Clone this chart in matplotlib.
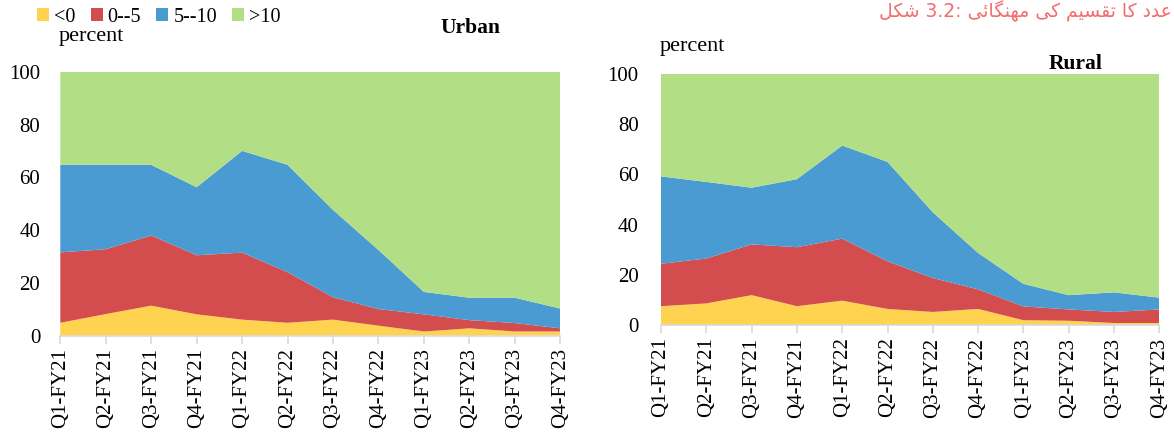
import matplotlib
matplotlib.use("Agg")
import matplotlib.pyplot as plt
from matplotlib.patches import Patch

# Quarters on the x axis
quarters = ["Q1-FY21", "Q2-FY21", "Q3-FY21", "Q4-FY21",
            "Q1-FY22", "Q2-FY22", "Q3-FY22", "Q4-FY22",
            "Q1-FY23", "Q2-FY23", "Q3-FY23", "Q4-FY23"]

band_labels = ["<0", "0--5", "5--10", ">10"]

# Urban: share of items in each inflation band (percent)
urban_neg = [4.9, 8.2, 11.4, 8.1, 6.1, 4.9, 6.1, 3.8, 1.6, 2.8, 1.6, 1.6]
urban_0_5 = [26.7, 24.6, 26.6, 22.4, 25.4, 19.2, 8.5, 6.3, 6.5, 3.1, 3.2, 1.2]
urban_5_10 = [33.2, 32.0, 26.8, 25.8, 38.6, 40.7, 33.1, 22.4, 8.5, 8.5, 9.6, 7.5]
urban_gt10 = [35.2, 35.2, 35.2, 43.7, 29.9, 35.2, 52.3, 67.5, 83.4, 85.6, 85.6, 89.7]

# Rural: share of items in each inflation band (percent)
rural_neg = [7.5, 8.6, 11.9, 7.5, 9.7, 6.4, 5.2, 6.4, 1.9, 1.7, 0.8, 0.8]
rural_0_5 = [16.9, 17.9, 20.2, 23.5, 24.7, 19.0, 13.5, 7.8, 5.5, 4.5, 4.4, 5.4]
rural_5_10 = [34.8, 30.5, 22.6, 27.1, 37.1, 39.6, 26.2, 14.5, 9.0, 5.7, 7.8, 4.7]
rural_gt10 = [40.8, 43.0, 45.3, 41.9, 28.5, 35.0, 55.1, 71.3, 83.6, 88.1, 87.0, 89.1]

y_ticks = [0, 20, 40, 60, 80, 100]

# Caption words, laid out left to right in this order
caption_words = ["شکل", "3.2:", "مہنگائی", "کی", "تقسیم", "کا", "عدد"]

colors = ["#FFD34F", "#D44D4E", "#4B9BD3", "#B2DF86"]
axis_grey = "#D9D9D9"
serif = ["Liberation Serif", "DejaVu Serif"]

plt.rcParams["font.family"] = serif

W, H = 1174, 434
fig = plt.figure(figsize=(W / 100, H / 100), dpi=100)


def px_box(x0, y0, x1, y1):
    """Axes rectangle from pixel edges (origin top-left)."""
    return [x0 / W, 1 - y1 / H, (x1 - x0) / W, (y1 - y0) / H]


def draw_panel(ax, series, ypad):
    x = list(range(len(quarters)))
    ax.stackplot(x, *series, colors=colors, linewidth=0, antialiased=True)
    ax.set_xlim(0, len(quarters) - 1)
    ax.set_ylim(0, 100)
    ax.set_xticks(x)
    ax.set_xticklabels(quarters, rotation=90, fontsize=15)
    ax.set_yticks(y_ticks)
    ax.set_yticklabels([str(v) for v in y_ticks], fontsize=15)
    for side in ("top", "right", "left"):
        ax.spines[side].set_visible(False)
    ax.spines["bottom"].set_color(axis_grey)
    ax.spines["bottom"].set_linewidth(1.2)
    ax.spines["bottom"].set_zorder(5)
    ax.tick_params(axis="x", direction="out", length=6, width=1.2,
                   color=axis_grey, pad=3)
    ax.tick_params(axis="y", length=0, pad=ypad)


ax_u = fig.add_axes(px_box(60.3, 72, 560.3, 335.7))
draw_panel(ax_u, [urban_neg, urban_0_5, urban_5_10, urban_gt10], 14.5)

ax_r = fig.add_axes(px_box(661, 74, 1159.3, 325))
draw_panel(ax_r, [rural_neg, rural_0_5, rural_5_10, rural_gt10], 16)

# Panel headings and unit labels
fig.text(470 / W, 1 - 33 / H, "Urban", fontsize=15.5, fontweight="bold",
         ha="center", va="baseline")
fig.text(1076 / W, 1 - 69 / H, "Rural", fontsize=15.5, fontweight="bold",
         ha="center", va="baseline")
fig.text(59 / W, 1 - 41 / H, "percent", fontsize=16, ha="left", va="baseline")
fig.text(660 / W, 1 - 51 / H, "percent", fontsize=16, ha="left", va="baseline")

# Legend across the top left
handles = [Patch(facecolor=c, edgecolor="none") for c in colors]
fig.legend(handles, band_labels, loc="center left", ncol=4,
           bbox_to_anchor=(37 / W, 1 - 17 / H), frameon=False, fontsize=14.5,
           handlelength=0.6, handleheight=0.6, handletextpad=0.25,
           columnspacing=0.75, borderpad=0, borderaxespad=0)

# Urdu caption: letters mapped to their contextual (joined) forms,
# each word written out right to left
FORMS = {
    "ش": (0xFEB5, 0xFEB6, 0xFEB7, 0xFEB8),
    "ک": (0xFB8E, 0xFB8F, 0xFB90, 0xFB91),
    "ل": (0xFEDD, 0xFEDE, 0xFEDF, 0xFEE0),
    "م": (0xFEE1, 0xFEE2, 0xFEE3, 0xFEE4),
    "ہ": (0xFBA6, 0xFBA7, 0xFBA8, 0xFEEC),
    "ن": (0xFEE5, 0xFEE6, 0xFEE7, 0xFEE8),
    "گ": (0xFB92, 0xFB93, 0xFB94, 0xFB95),
    "ا": (0xFE8D, 0xFE8E, None, None),
    "ئ": (0xFE89, 0xFE8A, 0xFE8B, 0xFE8C),
    "ی": (0xFBFC, 0xFBFD, 0xFBFE, 0xFBFF),
    "ت": (0xFE95, 0xFE96, 0xFE97, 0xFE98),
    "ق": (0xFED5, 0xFED6, 0xFED7, 0xFED8),
    "س": (0xFEB1, 0xFEB2, 0xFEB3, 0xFEB4),
    "ع": (0xFEC9, 0xFECA, 0xFECB, 0xFECC),
    "د": (0xFEA9, 0xFEAA, None, None),
}


def shape_word(word):
    if not any(c in FORMS for c in word):
        return word
    out = []
    for i, c in enumerate(word):
        if c not in FORMS:
            out.append(c)
            continue
        prev = word[i - 1] if i > 0 else None
        nxt = word[i + 1] if i + 1 < len(word) else None
        joins_prev = prev in FORMS and FORMS[prev][2] is not None
        joins_next = nxt in FORMS and FORMS[c][2] is not None
        iso, fin, ini, med = FORMS[c]
        if joins_prev and joins_next:
            g = med
        elif joins_prev:
            g = fin
        elif joins_next:
            g = ini
        else:
            g = iso
        out.append(chr(g))
    return "".join(reversed(out))


caption_drawn = " ".join(shape_word(w) for w in caption_words)
fig.text(1172 / W, 1 - 17 / H, caption_drawn, fontsize=13.5, color="#F46C6C",
         ha="right", va="baseline", family=["DejaVu Sans"])

fig.savefig("out.png", dpi=100)
